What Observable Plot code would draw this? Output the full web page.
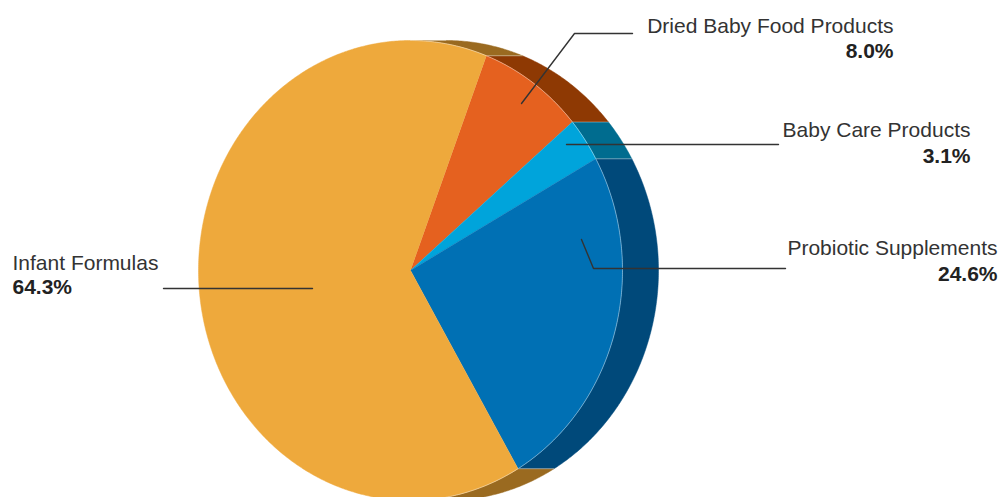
<!DOCTYPE html>
<html><head><meta charset="utf-8">
<script src="https://cdn.jsdelivr.net/npm/d3@7"></script>
<script src="https://cdn.jsdelivr.net/npm/@observablehq/plot@0.6"></script>
<style>body{margin:0;background:#fff;overflow:hidden}</style>
</head><body><div id="chart"></div>
<script>
// ---- data ----
const categories = ["Dried Baby Food Products", "Baby Care Products", "Probiotic Supplements", "Infant Formulas"];
const shares = [8.0, 3.1, 24.6, 64.3];
const shareLabels = ["8.0%", "3.1%", "24.6%", "64.3%"];
const faceColors = ["#E5611F", "#00A4DB", "#0070B4", "#EEA93C"];
const sideColors = ["#8E3903", "#006C8F", "#00497A", "#9A6A20"];

// ---- layout ----
const W = 1002, H = 497;
const pie = {cx: 410, cy: 270, rx: 212, ry: 230, depth: 36, startAngle: 21};
const labelLayout = [
  {x: 893, anchor: "end", nameY: 32, pctY: 57, leader: [[521, 103], [574, 33], [632, 33]]},
  {x: 970, anchor: "end", nameY: 136, pctY: 162, leader: [[566, 144], [778, 144]]},
  {x: 997, anchor: "end", nameY: 254, pctY: 280, leader: [[581, 239], [593, 268], [785, 268]]},
  {x: 12, anchor: "start", nameY: 269, pctY: 293, leader: [[312, 288], [163, 288]]}
];

const rad = d => d * Math.PI / 180;
const pt = (a, r = 1, off = 0) => ({x: pie.cx + off + pie.rx * r * Math.sin(rad(a)), y: pie.cy - pie.ry * r * Math.cos(rad(a))});
const total = d3.sum(shares);
let acc = pie.startAngle;
const slices = categories.map((c, i) => { const a0 = acc, a1 = acc + shares[i] / total * 360; acc = a1; return {c, i, a0, a1}; });
const arcAngles = (a0, a1) => { const n = Math.max(2, Math.ceil((a1 - a0) / 0.5)); return d3.range(n + 1).map(k => a0 + (a1 - a0) * k / n); };

const faceRows = [], sideRows = [], edgeRows = [], rimRows = [];
slices.forEach(s => {
  faceRows.push({id: s.c, ...pt(0, 0), color: faceColors[s.i]});
  arcAngles(s.a0, s.a1).forEach(a => faceRows.push({id: s.c, ...pt(a), color: faceColors[s.i]}));
  for (const k of [0, 360]) {
    const lo = Math.max(s.a0, k), hi = Math.min(s.a1, k + 180);
    if (hi > lo) {
      const id = s.c + "-side-" + k;
      const angs = arcAngles(lo, hi);
      angs.forEach(a => sideRows.push({id, ...pt(a), color: sideColors[s.i]}));
      angs.slice().reverse().forEach(a => sideRows.push({id, ...pt(a, 1, pie.depth), color: sideColors[s.i]}));
    }
  }
  const b = ((s.a0 % 360) + 360) % 360;
  if (b > 0 && b < 180) { edgeRows.push({id: s.c, ...pt(b)}, {id: s.c, ...pt(b, 1, pie.depth)}); }
});
arcAngles(0, 180).forEach(a => rimRows.push(pt(a)));

const leaderRows = labelLayout.flatMap((l, i) => l.leader.map(([x, y]) => ({id: categories[i], x, y})));
const labelRows = labelLayout.map((l, i) => ({...l, name: categories[i], pct: shareLabels[i]}));

const font = "'Liberation Sans', Arial, Helvetica, sans-serif";
const textMarks = ["start", "end"].flatMap(anchor => {
  const rows = labelRows.filter(d => d.anchor === anchor);
  return [
    Plot.text(rows, {x: "x", y: "nameY", text: "name", textAnchor: anchor, lineAnchor: "bottom", fontSize: 21, fill: "#333", fontFamily: font}),
    Plot.text(rows, {x: "x", y: "pctY", text: "pct", textAnchor: anchor, lineAnchor: "bottom", fontSize: 21, fontWeight: "bold", fill: "#222", fontFamily: font})
  ];
});
const chart = Plot.plot({
  width: W, height: H, margin: 0,
  x: {domain: [0, W], range: [0, W], axis: null},
  y: {domain: [0, H], range: [0, H], axis: null},
  color: {type: "identity"},
  style: {fontFamily: font, background: "#fff"},
  marks: [
    Plot.line(sideRows, {x: "x", y: "y", z: "id", fill: "color", stroke: "color", strokeWidth: 0.5}),
    Plot.line(edgeRows, {x: "x", y: "y", z: "id", stroke: "#fff", strokeOpacity: 0.35, strokeWidth: 1}),
    Plot.line(faceRows, {x: "x", y: "y", z: "id", fill: "color", stroke: "color", strokeWidth: 0.5}),
    Plot.line(rimRows, {x: "x", y: "y", stroke: "#fff", strokeOpacity: 0.4, strokeWidth: 1}),
    Plot.line(leaderRows, {x: "x", y: "y", z: "id", stroke: "#333", strokeWidth: 1.4}),
    ...textMarks
  ]
});
document.getElementById("chart").append(chart);
</script>
</body></html>
